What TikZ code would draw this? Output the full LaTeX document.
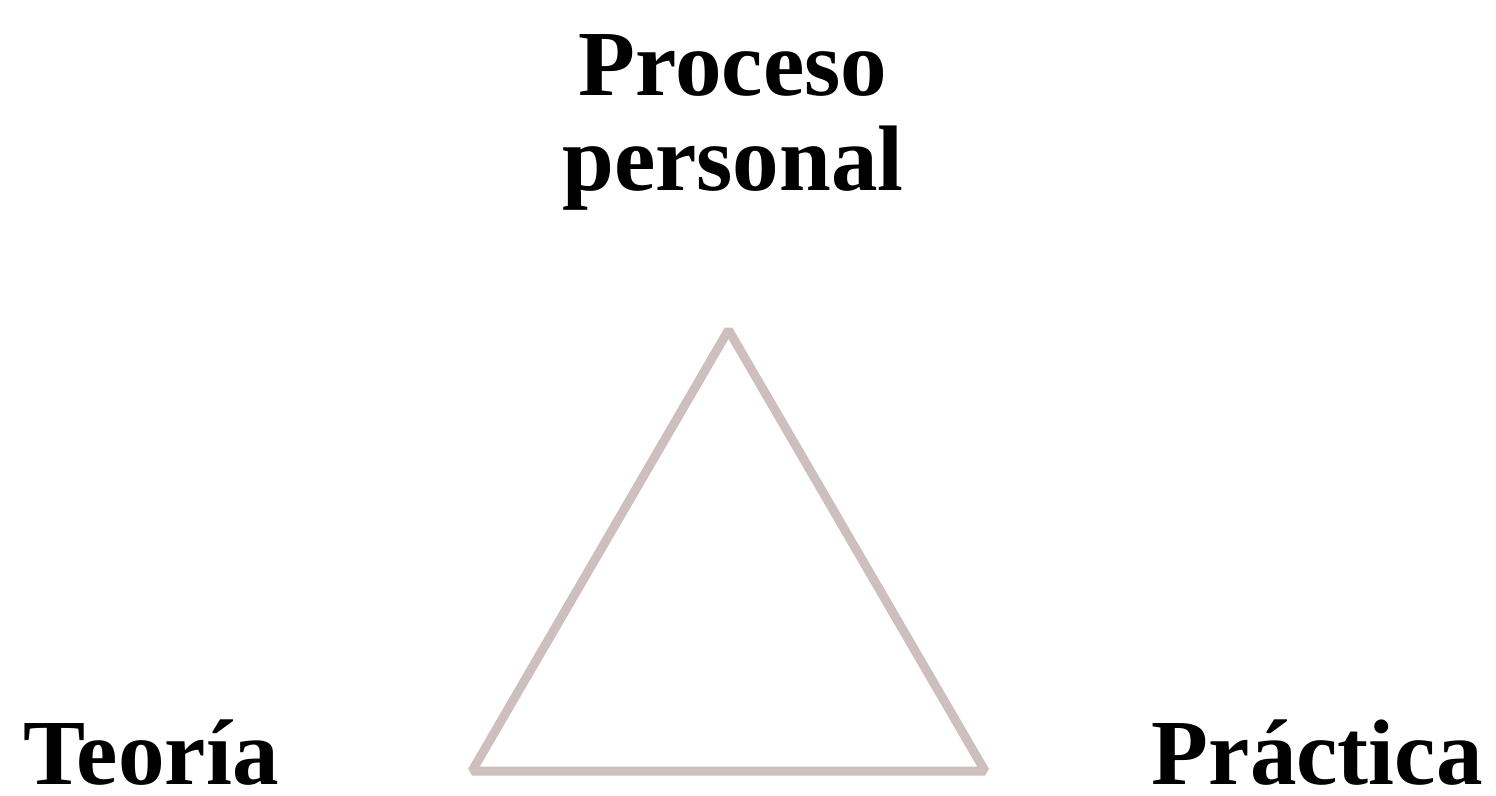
\documentclass[tikz,border=0pt]{standalone}
\usepackage{fontspec}
\setmainfont{Liberation Serif}
\usepackage{tikz}
\usetikzlibrary{positioning}
\definecolor{mytaupe}{HTML}{CDBFBD}

\begin{document}
\begin{tikzpicture}[x=0.02cm, y=-0.02cm,
  lbl/.style={font=\bfseries\fontsize{53}{54}\selectfont, inner sep=0pt, align=center},
  edge/.style={draw=mytaupe, line width=9*0.02cm, line join=bevel}
]
\useasboundingbox (0,0) rectangle (1496,795);
\coordinate (top) at (728.5,330);
\coordinate (left) at (472,771);
\coordinate (right) at (985,771);
\draw[edge] (top) -- (left) -- (right) -- cycle;
\node[lbl, anchor=base west] (teoria) at (23,784) {Teoría};
\node[lbl, anchor=base east] (practica) at (1483,784) {Práctica};
\node[lbl, anchor=north] (proceso) at (733,34) {Proceso\\personal};
\end{tikzpicture}
\end{document}
